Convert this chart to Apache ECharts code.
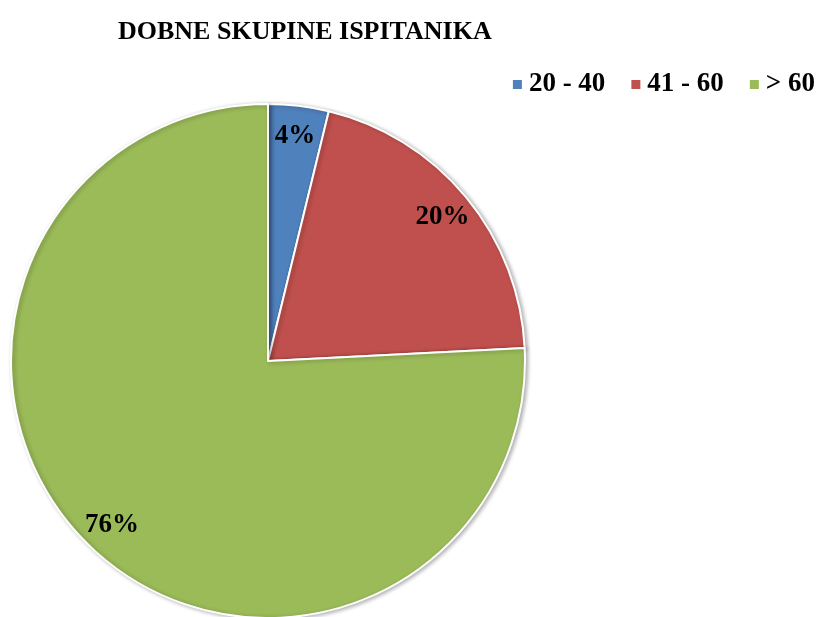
<!DOCTYPE html>
<html>
<head>
<meta charset="UTF-8">
<title>Dobne skupine ispitanika</title>
<script src="https://cdn.jsdelivr.net/npm/echarts@6/dist/echarts.min.js"></script>
<style>
html, body { margin: 0; padding: 0; background: #fff; }
#main { width: 823px; height: 617px; }
</style>
</head>
<body>
<div id="main"></div>
<script>
// age groups and share of respondents (percent)
var categories = ['20 - 40', '41 - 60', '> 60'];
var values = [3.8, 20.4, 75.8];
var colors = ['#4F81BD', '#C0504D', '#9BBB59'];

var serif = '"Liberation Serif", "Times New Roman", serif';

var data = [];
for (var i = 0; i < categories.length; i++) {
  data.push({ name: categories[i], value: values[i], itemStyle: { color: colors[i] } });
}
var labelData = [];
for (var j = 0; j < categories.length; j++) {
  labelData.push({ name: categories[j], value: values[j] });
}

var myChart = echarts.init(document.getElementById('main'));
var option = {
  animation: false,
  title: {
    text: 'DOBNE SKUPINE ISPITANIKA',
    left: 113,
    top: 14,
    textStyle: { fontFamily: serif, fontSize: 26, fontWeight: 'bold', color: '#000' }
  },
  legend: {
    data: categories,
    right: 3,
    top: 66,
    icon: 'rect',
    itemWidth: 11,
    itemHeight: 11,
    itemGap: 24,
    textStyle: { fontFamily: serif, fontSize: 27, fontWeight: 'bold', color: '#000', padding: [0, 0, 0, 1] }
  },
  series: [
    {
      type: 'pie',
      center: [268, 361],
      radius: 257,
      startAngle: 90,
      clockwise: true,
      label: { show: false },
      labelLine: { show: false },
      itemStyle: {
        borderColor: '#fff',
        borderWidth: 2,
        shadowBlur: 4,
        shadowOffsetX: 2,
        shadowOffsetY: 1,
        shadowColor: 'rgba(0,0,0,0.3)'
      },
      emphasis: { disabled: true },
      data: data
    },
    {
      type: 'pie',
      center: [268, 361],
      radius: [190, 257],
      startAngle: 90,
      clockwise: true,
      silent: true,
      percentPrecision: 0,
      itemStyle: { color: 'transparent' },
      label: {
        show: true,
        position: 'inside',
        formatter: '{d}%',
        fontFamily: serif,
        fontSize: 27,
        fontWeight: 'bold',
        color: '#000'
      },
      labelLine: { show: false },
      emphasis: { disabled: true },
      data: labelData
    }
  ]
};
myChart.setOption(option);
</script>
</body>
</html>
